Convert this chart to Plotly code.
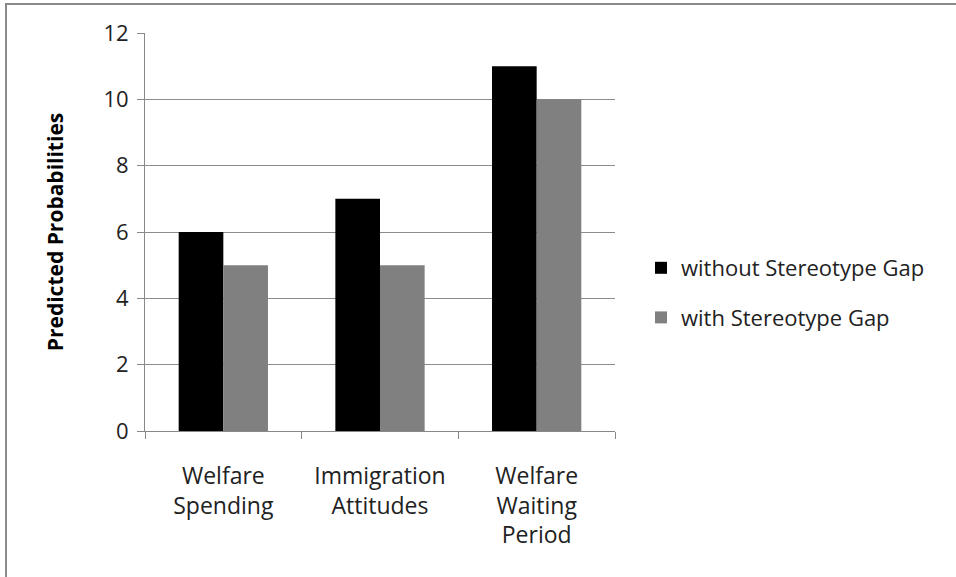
import plotly.graph_objects as go

categories = ["Welfare<br>Spending", "Immigration<br>Attitudes", "Welfare<br>Waiting<br>Period"]
without_gap = [6, 7, 11]
with_gap = [5, 5, 10]
series_names = ["without Stereotype Gap", "with Stereotype Gap"]
y_ticks = [0, 2, 4, 6, 8, 10, 12]

W, H = 956, 577
FONT = "Open Sans, Liberation Sans, sans-serif"

fig = go.Figure()
fig.add_trace(go.Bar(x=categories, y=without_gap, name=series_names[0],
                     marker=dict(color="#000000", line=dict(width=0)), legendgroup="a"))
fig.add_trace(go.Bar(x=categories, y=with_gap, name=series_names[1],
                     marker=dict(color="#808080", line=dict(width=0)), legendgroup="b"))

x0, x1 = 145 / W, 615 / W
y0, y1 = 1 - 431 / H, 1 - 33 / H

fig.update_layout(
    width=W, height=H,
    margin=dict(l=0, r=0, t=0, b=0, autoexpand=False),
    paper_bgcolor="white", plot_bgcolor="white",
    barmode="group", bargap=0.43, bargroupgap=0,
    font=dict(family=FONT, color="#222222", size=20),
    xaxis=dict(domain=[x0, x1], showline=True, linecolor="#888888", linewidth=1,
               ticks="outside", tickson="boundaries", ticklen=7, tickcolor="#888888",
               tickfont=dict(size=23, color="#222222"), showgrid=False, automargin=False,
               ticklabelstandoff=24),
    yaxis=dict(domain=[y0, y1], range=[0, 12], tickvals=y_ticks, showline=True,
               linecolor="#888888", linewidth=1, ticks="outside", ticklen=7,
               tickcolor="#888888", gridcolor="#8c8c8c", gridwidth=1,
               tickfont=dict(size=22, color="#222222"), zeroline=False, automargin=False,
               ticklabelstandoff=4,
               title=dict(text="<b>Predicted Probabilities</b>", font=dict(size=21, color="#000000"), standoff=34)),
    legend=dict(x=641 / W, y=1 - 247 / H, xanchor="left", yanchor="top",
                font=dict(size=22, color="#222222"), traceorder="grouped",
                tracegroupgap=18, itemwidth=30, bgcolor="rgba(0,0,0,0)"),
    shapes=[dict(type="rect", xref="paper", yref="paper", x0=6 / W, x1=1.05, y0=-0.05, y1=1 - 4 / H,
                 line=dict(color="#8a8a8a", width=2), fillcolor="rgba(0,0,0,0)", layer="below")],
)

fig.write_html("out.html", config={"displayModeBar": False},
               post_script="document.body.style.margin='0';")
